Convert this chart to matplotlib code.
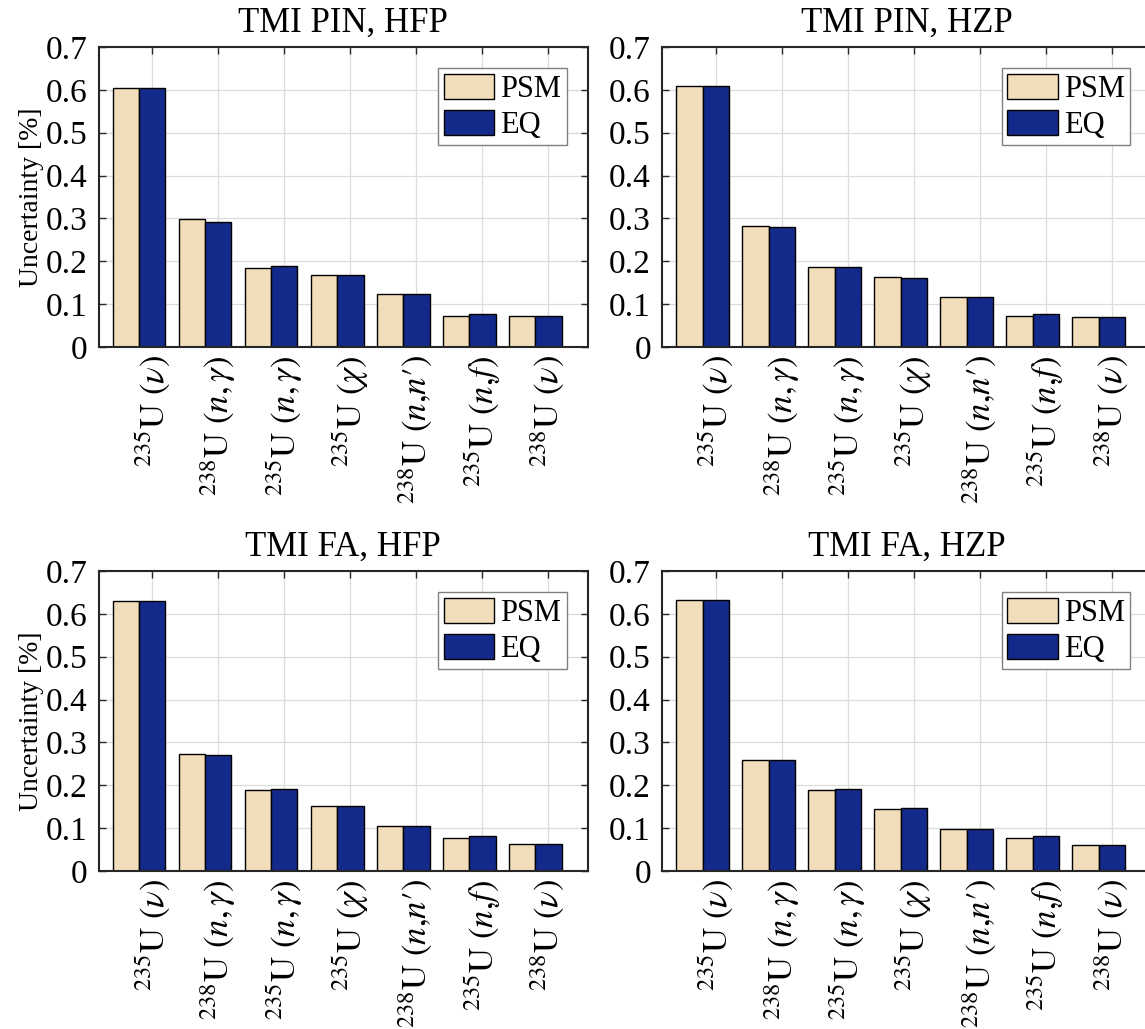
import matplotlib
matplotlib.use("Agg")
import matplotlib.pyplot as plt
import numpy as np
from matplotlib import rcParams

rcParams.update({
    'font.family': ['Liberation Serif', 'DejaVu Serif'],
    'mathtext.fontset': 'stix',
    'font.size': 24,
})

labels = [r'$^{235}\mathrm{U}\ (\nu)$', r'$^{238}\mathrm{U}\ (n,\gamma)$',
          r'$^{235}\mathrm{U}\ (n,\gamma)$', r'$^{235}\mathrm{U}\ (\chi)$',
          r'$^{238}\mathrm{U}\ (n{,}n\prime)$', r'$^{235}\mathrm{U}\ (n{,}f)$',
          r'$^{238}\mathrm{U}\ (\nu)$']

titles = ['TMI PIN, HFP', 'TMI PIN, HZP', 'TMI FA, HFP', 'TMI FA, HZP']

psm_pin_hfp = [0.605, 0.298, 0.184, 0.167, 0.124, 0.072, 0.072]
eq_pin_hfp = [0.605, 0.292, 0.189, 0.167, 0.124, 0.076, 0.072]
psm_pin_hzp = [0.608, 0.283, 0.187, 0.164, 0.116, 0.072, 0.071]
eq_pin_hzp = [0.608, 0.280, 0.187, 0.162, 0.116, 0.076, 0.071]
psm_fa_hfp = [0.630, 0.273, 0.190, 0.151, 0.105, 0.078, 0.062]
eq_fa_hfp = [0.630, 0.271, 0.192, 0.151, 0.105, 0.082, 0.062]
psm_fa_hzp = [0.632, 0.258, 0.189, 0.145, 0.099, 0.078, 0.060]
eq_fa_hzp = [0.632, 0.260, 0.192, 0.146, 0.099, 0.082, 0.060]

psm_sets = [psm_pin_hfp, psm_pin_hzp, psm_fa_hfp, psm_fa_hzp]
eq_sets = [eq_pin_hfp, eq_pin_hzp, eq_fa_hfp, eq_fa_hzp]

psm_color = '#F1DDB9'
eq_color = '#142A8A'

W, H = 1145, 1029
fig = plt.figure(figsize=(W / 100, H / 100), dpi=100)

# axes boxes in pixels: left, top
boxes = [(98.5, 47), (662, 47), (98.5, 571), (662, 571)]
aw, ah = 489.5, 300

x = np.arange(1, len(labels) + 1)
bw = 0.4

for i in range(4):
    left, top = boxes[i]
    ax = fig.add_axes([left / W, 1 - (top + ah) / H, aw / W, ah / H])
    ax.set_axisbelow(True)
    ax.bar(x - bw / 2, psm_sets[i], bw, color=psm_color, edgecolor='black', linewidth=1.0, label='PSM')
    ax.bar(x + bw / 2, eq_sets[i], bw, color=eq_color, edgecolor='black', linewidth=1.0, label='EQ')

    ax.set_xlim(0.386, 7.80)
    ax.set_ylim(0, 0.7)
    ax.set_yticks(np.arange(0, 0.71, 0.1))
    ax.set_yticklabels(['0', '0.1', '0.2', '0.3', '0.4', '0.5', '0.6', '0.7'])
    ax.set_xticks(x + 0.2)
    ax.set_xticklabels(labels, rotation=90, ha='center', va='top', fontsize=25)

    ax.grid(True, color='#dcdcdc', linewidth=0.9)
    ax.tick_params(direction='in', length=5, width=1.0, top=True, right=True,
                   labelsize=24, color='#262626')
    ax.tick_params(axis='x', pad=6, labelsize=25)
    ax.tick_params(axis='y', pad=8)
    for sp in ax.spines.values():
        sp.set_linewidth(1.5)
        sp.set_color('#262626')

    ax.set_title(titles[i], fontsize=25, pad=11)
    if i % 2 == 0:
        ax.set_ylabel('Uncertainty [%]', fontsize=20, labelpad=1)

    leg = ax.legend(loc='upper right', fontsize=22, fancybox=False, framealpha=1,
                    edgecolor='#808080', handlelength=1.65, handleheight=0.9,
                    handletextpad=0.2, labelspacing=0.18, borderpad=0.18,
                    borderaxespad=0.7)
    leg.get_frame().set_linewidth(1.0)

fig.savefig('out.png', dpi=100)
